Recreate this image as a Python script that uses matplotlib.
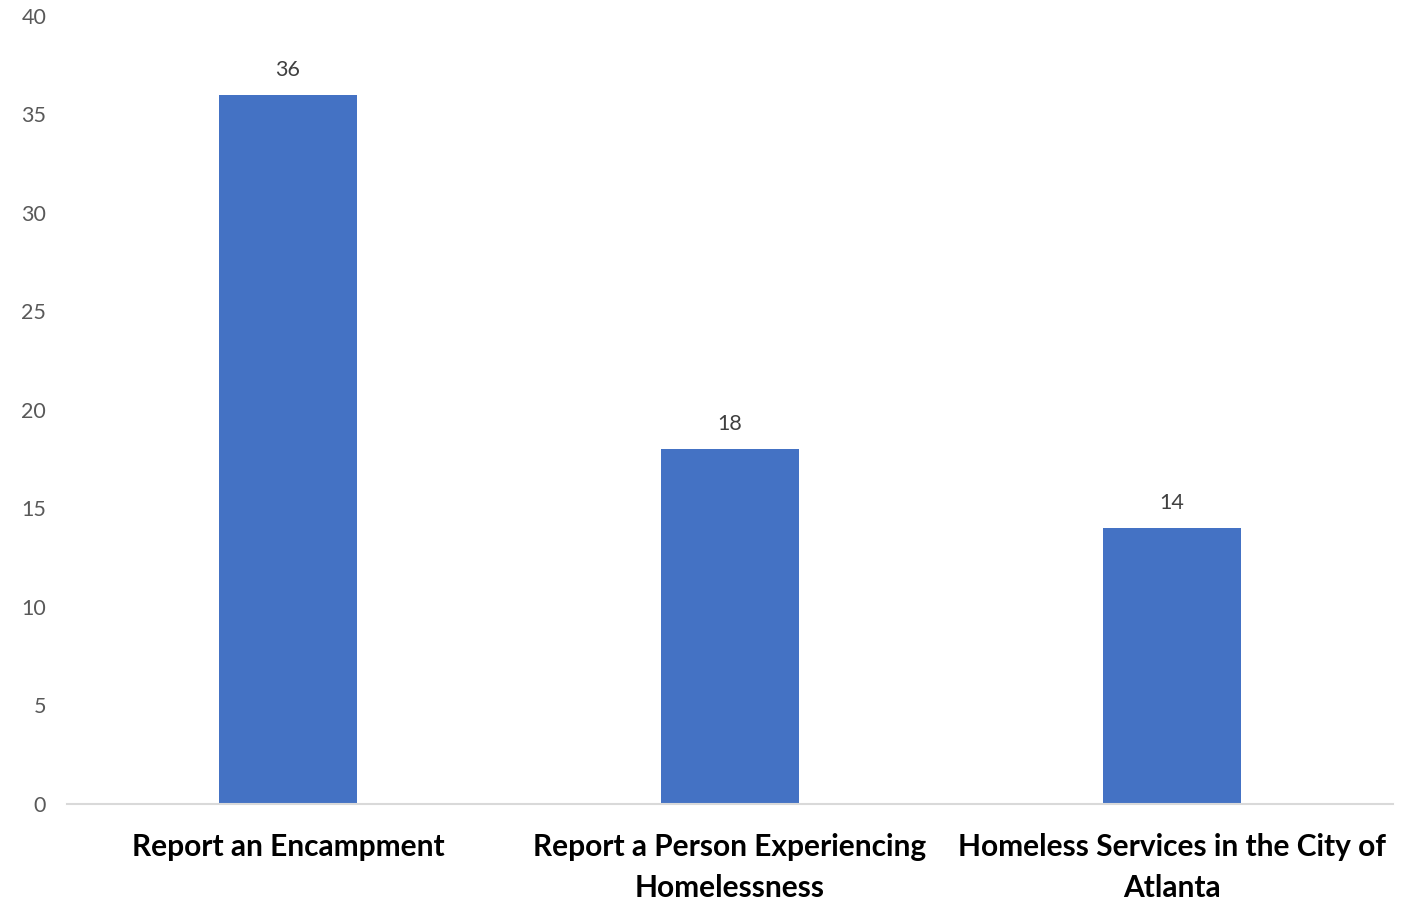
import matplotlib
matplotlib.use("Agg")
import matplotlib.pyplot as plt

categories = ["Report an Encampment",
              "Report a Person Experiencing\nHomelessness",
              "Homeless Services in the City of\nAtlanta"]
values = [36, 18, 14]
yticks = [0, 5, 10, 15, 20, 25, 30, 35, 40]

plt.rcParams['font.family'] = ['Lato', 'DejaVu Sans']

fig = plt.figure(figsize=(14.16, 8.99), dpi=100)
ax = fig.add_axes([0.0473, 0.1057, 0.9364, 0.8765])

x = list(range(len(categories)))
bars = ax.bar(x, values, width=0.312, color='#4472C4', zorder=2)

ax.set_xlim(-0.5, len(categories) - 0.5)
ax.set_ylim(0, 40)
ax.set_yticks(yticks)
ax.set_yticklabels([str(t) for t in yticks], fontsize=15.5, color='#595959')
ax.tick_params(axis='y', length=0, pad=15)
ax.set_xticks(x)
ax.set_xticklabels(categories, fontsize=21.5, fontweight='bold', color='black', linespacing=1.55)
ax.tick_params(axis='x', length=0, pad=21)

for s in ['top', 'right', 'left']:
    ax.spines[s].set_visible(False)
ax.spines['bottom'].set_color('#D9D9D9')
ax.spines['bottom'].set_linewidth(1.5)

for b, v in zip(bars, values):
    ax.annotate(str(v), (b.get_x() + b.get_width() / 2, v), xytext=(0, 18),
                textcoords='offset points', ha='center', va='center',
                fontsize=15.5, color='#404040')

fig.savefig('out.png', dpi=100)
